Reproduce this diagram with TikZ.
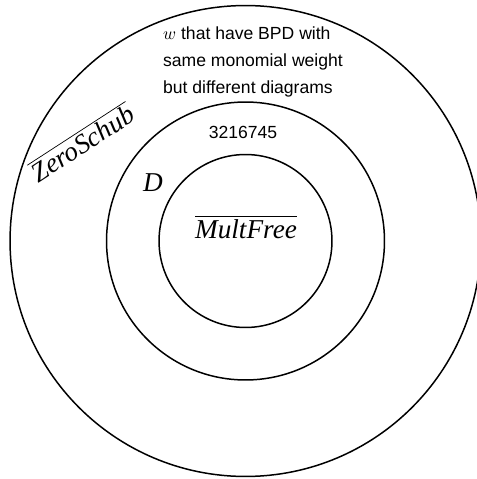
\documentclass[tikz,border=0pt]{standalone}
\usepackage{fontspec}
\newfontfamily\notefont{Liberation Sans}
\newfontfamily\namefont{Liberation Serif}
\usetikzlibrary{positioning}

\begin{document}
\begin{tikzpicture}[
  x=0.02cm, y=-0.02cm,
  ring/.style={draw, circle, line width=0.85pt, inner sep=0pt},
  note/.style={font=\notefont\fontsize{10}{15.3}\selectfont, align=left, inner sep=0pt},
  setname/.style={font=\namefont\itshape\fontsize{15.5}{17}\selectfont, inner sep=0pt}
]
  \useasboundingbox (0,0) rectangle (476,479);

  \node[ring, minimum size=9.42cm] (outer) at (245.5,241) {};
  \node[ring, minimum size=5.56cm] (middle) at (245.5,241) {};
  \node[ring, minimum size=3.46cm] (inner) at (245.5,241) {};

  \node[note] (bpd) at (253,62) {$w$ that have BPD with\\same monomial weight\\but different diagrams};
  \node[note] (perm) at (243,132) {3216745};
  \node[setname] (dset) at (153,183) {D};
  \node[setname] (mult) at (246,227) {$\overline{\hbox{MultFree}}$};
  \node[setname, rotate=33] (zero) at (82,142) {$\overline{\hbox{ZeroSchub}}$};
\end{tikzpicture}
\end{document}
